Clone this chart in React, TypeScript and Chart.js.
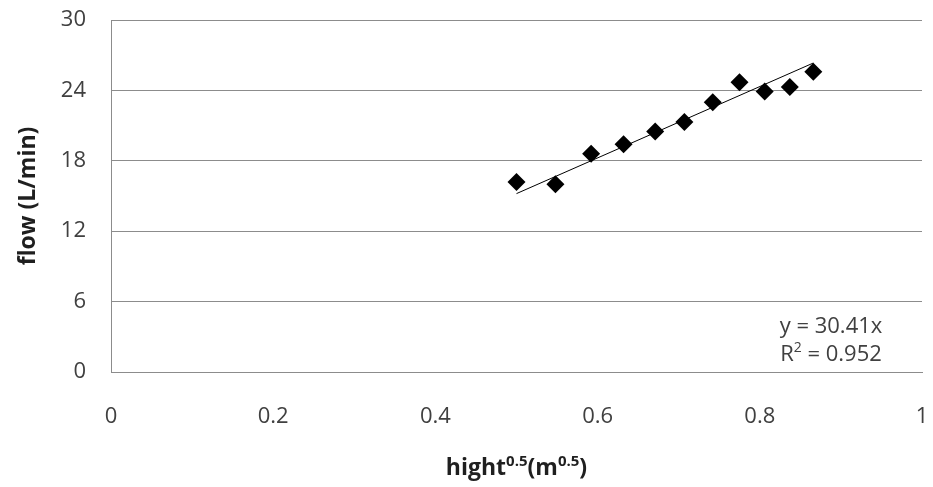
import { useEffect, useRef } from "react";
import { Chart, registerables } from "chart.js";

Chart.register(...registerables);

// Square root of water height (m^0.5) and measured flow (L/min)
const heightRoot = [0.5, 0.548, 0.592, 0.632, 0.671, 0.707, 0.742, 0.775, 0.806, 0.837, 0.866];
const flow = [16.2, 16.0, 18.6, 19.4, 20.5, 21.3, 23.0, 24.7, 23.9, 24.3, 25.6];

// Linear fit through the origin
const slope = 30.41;
const rSquared = 0.952;

// Axis ranges
const xRange = [0, 1];
const xStep = 0.2;
const yRange = [0, 30];
const yStep = 6;

const FONT = "'Open Sans', 'Noto Sans', sans-serif";
const GRID = "#8c8c8c";
const TEXT = "#404040";
const TITLE = "#1f1f1f";
const SIZE = 22;
const TITLE_SIZE = 23;

// Draws a run of text pieces, some raised as superscripts, centred on cx.
function drawRich(
  ctx: CanvasRenderingContext2D,
  parts: { t: string; sup?: boolean }[],
  cx: number,
  baseline: number,
  size: number,
  weight: string
) {
  const supSize = Math.round(size * 0.64);
  const fontFor = (sup?: boolean) => `${weight} ${sup ? supSize : size}px ${FONT}`;
  let total = 0;
  for (const p of parts) {
    ctx.font = fontFor(p.sup);
    total += ctx.measureText(p.t).width;
  }
  let x = cx - total / 2;
  ctx.textAlign = "left";
  ctx.textBaseline = "alphabetic";
  for (const p of parts) {
    ctx.font = fontFor(p.sup);
    ctx.fillText(p.t, x, p.sup ? baseline - size * 0.4 : baseline);
    x += ctx.measureText(p.t).width;
  }
}

const labelsPlugin = {
  id: "labelsPlugin",
  afterDraw(chart: Chart) {
    const { ctx, chartArea } = chart;
    ctx.save();

    // Trendline equation, lower right of the plot
    ctx.fillStyle = TEXT;
    const eqX = chartArea.right - 91;
    drawRich(ctx, [{ t: `y = ${slope}x` }], eqX, chartArea.bottom - 39, SIZE, "normal");
    drawRich(
      ctx,
      [{ t: "R" }, { t: "2", sup: true }, { t: ` = ${rSquared}` }],
      eqX,
      chartArea.bottom - 11,
      SIZE,
      "normal"
    );

    // X axis title with superscripts
    ctx.fillStyle = TITLE;
    drawRich(
      ctx,
      [{ t: "hight" }, { t: "0.5", sup: true }, { t: "(m" }, { t: "0.5", sup: true }, { t: ")" }],
      (chartArea.left + chartArea.right) / 2,
      chartArea.bottom + 103,
      TITLE_SIZE,
      "bold"
    );
    ctx.restore();
  },
};

const formatTick = (v: number | string) => String(Number(Number(v).toFixed(2)));

export default function App() {
  const canvasRef = useRef<HTMLCanvasElement | null>(null);

  useEffect(() => {
    document.body.style.margin = "0";
    const canvas = canvasRef.current;
    if (!canvas) return;

    const points = heightRoot.map((x, i) => ({ x, y: flow[i] }));
    const xMin = Math.min(...heightRoot);
    const xMax = Math.max(...heightRoot);
    const trend = [
      { x: xMin, y: slope * xMin },
      { x: xMax, y: slope * xMax },
    ];

    const chart = new Chart(canvas, {
      type: "scatter",
      data: {
        datasets: [
          {
            label: "Linear (flow)",
            data: trend,
            showLine: true,
            borderColor: "#000000",
            borderWidth: 1,
            pointRadius: 0,
            fill: false,
          },
          {
            label: "flow",
            data: points,
            pointStyle: "rectRot",
            pointRadius: 9,
            backgroundColor: "#000000",
            borderColor: "#000000",
            borderWidth: 0,
          },
        ],
      },
      options: {
        animation: false,
        responsive: false,
        devicePixelRatio: 1,
        layout: { padding: { top: 20, right: 11, left: 0, bottom: 0 } },
        plugins: {
          legend: { display: false },
          tooltip: { enabled: false },
        },
        scales: {
          x: {
            type: "linear",
            min: xRange[0],
            max: xRange[1],
            grid: {
              display: true,
              color: "rgba(0,0,0,0)",
              drawTicks: true,
              tickLength: 29,
              tickColor: "rgba(0,0,0,0)",
            },
            border: { display: true, color: GRID, width: 1 },
            ticks: {
              stepSize: xStep,
              color: TEXT,
              font: { family: FONT, size: SIZE },
              padding: 3,
              maxRotation: 0,
              callback: (v: number | string) => formatTick(v),
            },
            afterFit(scale: any) {
              scale.height = 115;
            },
          },
          y: {
            type: "linear",
            min: yRange[0],
            max: yRange[1],
            grid: {
              display: true,
              color: GRID,
              lineWidth: 1,
              drawTicks: true,
              tickLength: 21,
              tickColor: "rgba(0,0,0,0)",
            },
            border: { display: true, color: GRID, width: 1 },
            ticks: {
              stepSize: yStep,
              color: TEXT,
              font: { family: FONT, size: SIZE },
              padding: 4,
              callback: (v: number | string) => formatTick(v),
            },
            title: {
              display: true,
              text: "flow (L/min)",
              color: TITLE,
              font: { family: FONT, size: TITLE_SIZE, weight: "bold" },
              padding: { top: 15, bottom: 0 },
            },
            afterFit(scale: any) {
              scale.width = 111;
            },
          },
        },
      },
      plugins: [labelsPlugin],
    });

    return () => chart.destroy();
  }, []);

  return (
    <div style={{ width: 933, height: 487 }}>
      <canvas ref={canvasRef} width={933} height={487} />
    </div>
  );
}
